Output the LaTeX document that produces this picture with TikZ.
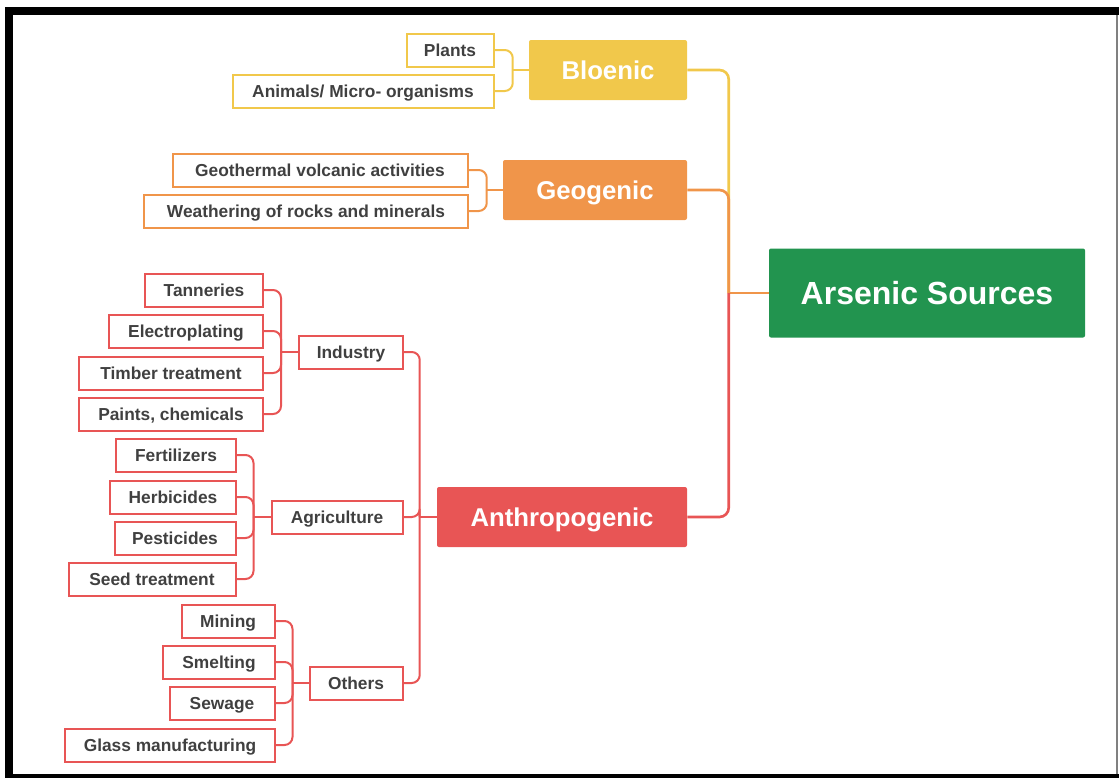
\documentclass[tikz,border=0pt]{standalone}
\usepackage{fontspec}
\setmainfont{Liberation Sans}
\usepackage{xcolor}
\usepackage{tikz}
\usetikzlibrary{positioning}
\definecolor{bioyellow}{HTML}{F1C84B}
\definecolor{geoorange}{HTML}{F0954A}
\definecolor{anthred}{HTML}{E85555}
\definecolor{rootgreen}{HTML}{22944F}
\definecolor{leaftext}{HTML}{404040}
\newlength\pxu
\setlength\pxu{0.75pt}

\begin{document}
\begin{tikzpicture}[x=0.75pt, y=-0.75pt,
  leaf/.style={draw, line width=1.5pt, fill=white, text=leaftext, inner sep=0pt,
    minimum height=33\pxu, text height=9.3pt, text depth=0pt,
    font=\fontsize{13}{15}\selectfont\bfseries},
  branch/.style={inner sep=0pt, minimum height=60\pxu, rounded corners=1.5pt, text=white,
    text height=13.8pt, text depth=0pt, font=\fontsize{19.3}{22}\selectfont\bfseries},
  link/.style={line width=2pt, rounded corners=7pt},
  twig/.style={line width=1.5pt, rounded corners=6pt}]
\useasboundingbox (0,0) rectangle (1119,778);

% frame
\fill[black] (5,7) rectangle (1119,15);
\fill[black] (5,7) rectangle (13,778);
\fill[black] (5,774) rectangle (1119,778);
\draw[gray, line width=2\pxu] (1117,15) -- (1117,774);

% root
\node[branch, fill=rootgreen, minimum width=316\pxu, minimum height=89\pxu, text height=17.2pt,
  font=\fontsize{24}{28}\selectfont\bfseries] (root) at (927,293) {Arsenic Sources};

% Bloenic cluster
\node[branch, fill=bioyellow, minimum width=158\pxu] (bio) at (608,70) {Bloenic};
\node[leaf, draw=bioyellow, minimum width=87\pxu] (plants) at (450,50) {Plants};
\node[leaf, draw=bioyellow, minimum width=261\pxu] (animals) at (363,91) {Animals/ Micro- organisms};

% Geogenic cluster
\node[branch, fill=geoorange, minimum width=184\pxu] (geo) at (595,190) {Geogenic};
\node[leaf, draw=geoorange, minimum width=295\pxu] (geothermal) at (320,170) {Geothermal volcanic activities};
\node[leaf, draw=geoorange, minimum width=324\pxu] (weathering) at (306,211) {Weathering of rocks and minerals};

% Anthropogenic cluster
\node[branch, fill=anthred, minimum width=250\pxu] (anthro) at (562,517) {Anthropogenic};
\node[leaf, draw=anthred, minimum width=104\pxu] (industry) at (351,352) {Industry};
\node[leaf, draw=anthred, minimum width=131\pxu] (agri) at (337,517) {Agriculture};
\node[leaf, draw=anthred, minimum width=93\pxu] (others) at (356,683) {Others};

% industry leaves
\node[leaf, draw=anthred, minimum width=118\pxu] (tan) at (204,290) {Tanneries};
\node[leaf, draw=anthred, minimum width=154\pxu] (ele) at (186,331) {Electroplating};
\node[leaf, draw=anthred, minimum width=184\pxu] (tim) at (171,373) {Timber treatment};
\node[leaf, draw=anthred, minimum width=184\pxu] (pai) at (171,414) {Paints, chemicals};

% agriculture leaves
\node[leaf, draw=anthred, minimum width=120\pxu] (fer) at (176,455) {Fertilizers};
\node[leaf, draw=anthred, minimum width=126\pxu] (her) at (173,497) {Herbicides};
\node[leaf, draw=anthred, minimum width=121\pxu] (pes) at (175,538) {Pesticides};
\node[leaf, draw=anthred, minimum width=167\pxu] (see) at (152,579) {Seed treatment};

% other leaves
\node[leaf, draw=anthred, minimum width=93\pxu] (min) at (228,621) {Mining};
\node[leaf, draw=anthred, minimum width=112\pxu] (sme) at (219,662) {Smelting};
\node[leaf, draw=anthred, minimum width=105\pxu] (sew) at (222,703) {Sewage};
\node[leaf, draw=anthred, minimum width=210\pxu] (gla) at (170,745) {Glass manufacturing};

% hubs
\path (root.west) ++(-40,0) coordinate (hub);
\path (anthro.west) ++(-17,0) coordinate (ahub);
\path (bio.west) ++(-16,0) coordinate (bhub);
\path (geo.west) ++(-16,0) coordinate (ghub);
\path (industry.west) ++(-17,0) coordinate (ihub);
\path (agri.west) ++(-17,0) coordinate (aghub);
\path (others.west) ++(-16,0) coordinate (ohub);

% main links
\draw[link, bioyellow] (hub) |- (bio.east);
\draw[link, geoorange] (hub) |- (geo.east);
\draw[link, geoorange] (root.west) -- (hub);
\draw[link, anthred] (hub) |- (anthro.east);

% bloenic and geogenic twigs
\draw[twig, bioyellow] (bio.west) -- (bhub);
\foreach \c in {plants,animals} \draw[twig, bioyellow] (bhub) |- (\c.east);
\draw[twig, geoorange] (geo.west) -- (ghub);
\foreach \c in {geothermal,weathering} \draw[twig, geoorange] (ghub) |- (\c.east);

% anthropogenic twigs
\draw[twig, anthred] (anthro.west) -- (ahub);
\foreach \c in {industry,agri,others} \draw[twig, anthred] (ahub) |- (\c.east);
\draw[twig, anthred] (industry.west) -- (ihub);
\foreach \c in {tan,ele,tim,pai} \draw[twig, anthred] (ihub) |- (\c.east);
\draw[twig, anthred] (agri.west) -- (aghub);
\foreach \c in {fer,her,pes,see} \draw[twig, anthred] (aghub) |- (\c.east);
\draw[twig, anthred] (others.west) -- (ohub);
\foreach \c in {min,sme,sew,gla} \draw[twig, anthred] (ohub) |- (\c.east);
\end{tikzpicture}
\end{document}
